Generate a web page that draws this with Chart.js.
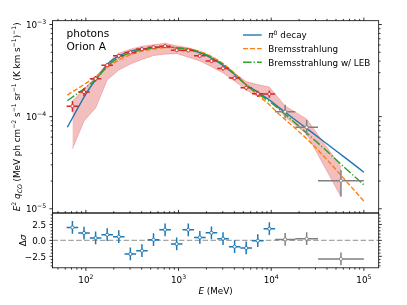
<!DOCTYPE html>
<html><head><meta charset="utf-8">
<script src="https://cdn.jsdelivr.net/npm/chart.js@4"></script>
<style>
html,body{margin:0;padding:0;background:#fff;}
#wrap{position:relative;width:407px;height:305px;overflow:hidden;}
canvas{position:absolute;left:0;top:0;}
</style></head>
<body><div id="wrap"><canvas id="cTop" width="407" height="305"></canvas><canvas id="cBot" width="407" height="305"></canvas></div>
<script>
// ---------------- data ----------------
const binCenters = [71.6, 95.5, 127.4, 169.8, 226.5, 302.0, 402.7, 537.0, 716.1, 955.0, 1273.5, 1698.2, 2264.6, 3019.9, 4027.2, 5370.3, 7161.4, 9549.9];
const binLo = [62.0, 82.7, 110.3, 147.1, 196.1, 261.5, 348.8, 465.1, 620.2, 827.1, 1102.9, 1470.8, 1961.3, 2615.4, 3487.7, 4651.0, 6202.2, 8270.8];
const binHi = [82.7, 110.3, 147.1, 196.1, 261.5, 348.8, 465.1, 620.2, 827.1, 1102.9, 1470.8, 1961.3, 2615.4, 3487.7, 4651.0, 6202.2, 8270.8, 11029];
const flux = [1.30e-4, 1.85e-4, 2.58e-4, 3.62e-4, 4.57e-4, 4.98e-4, 5.41e-4, 5.68e-4, 5.82e-4, 5.27e-4, 5.23e-4, 4.57e-4, 4.01e-4, 3.34e-4, 2.62e-4, 2.06e-4, 1.77e-4, 1.76e-4];
const fluxLo = [1.13e-4, 1.67e-4, 2.40e-4, 3.44e-4, 4.39e-4, 4.78e-4, 5.19e-4, 5.45e-4, 5.59e-4, 5.06e-4, 5.02e-4, 4.39e-4, 3.85e-4, 3.17e-4, 2.49e-4, 1.94e-4, 1.63e-4, 1.60e-4];
const fluxHi = [1.48e-4, 2.04e-4, 2.77e-4, 3.80e-4, 4.75e-4, 5.18e-4, 5.63e-4, 5.91e-4, 6.05e-4, 5.48e-4, 5.44e-4, 4.75e-4, 4.17e-4, 3.51e-4, 2.75e-4, 2.18e-4, 1.91e-4, 1.92e-4];

const grayCenters = [14140, 24130, 56570];
const grayLo = [11029, 18200, 32000];
const grayHi = [18200, 32000, 100000];
const grayFlux = [1.13e-4, 7.67e-5, 2.02e-5];
const grayFluxLo = [9.6e-5, 6.3e-5, 1.36e-5];
const grayFluxHi = [1.35e-4, 9.2e-5, 2.64e-5];

const bandE = [71.6, 95.5, 127.4, 169.8, 226.5, 302.0, 402.7, 537.0, 716.1, 955.0, 1273.5, 1698.2, 2264.6, 3019.9, 4027.2, 5370.3, 7161.4, 9549.9, 14140, 24130, 56570];
const bandUpper = [1.477e-4, 1.993e-4, 2.671e-4, 3.81e-4, 4.89e-4, 5.40e-4, 5.82e-4, 6.04e-4, 6.27e-4, 5.89e-4, 5.61e-4, 5.08e-4, 4.535e-4, 3.716e-4, 2.97e-4, 2.40e-4, 2.229e-4, 2.095e-4, 1.304e-4, 9.43e-5, 2.85e-5];
const bandLower = [4.46e-5, 8.97e-5, 1.241e-4, 2.493e-4, 3.20e-4, 3.716e-4, 4.18e-4, 4.60e-4, 4.77e-4, 4.83e-4, 4.42e-4, 4.03e-4, 3.49e-4, 2.97e-4, 2.432e-4, 1.943e-4, 1.652e-4, 1.592e-4, 9.91e-5, 6.49e-5, 1.349e-5];

const modelE = [63.1, 100, 129.7, 174.6, 235.5, 314.8, 414, 553, 741, 1033, 1327, 1774, 2366, 3112, 4093, 5433, 7145, 9397, 12470, 17780, 25120, 39810, 63100, 100000];
const pi0Decay = [7.67e-5, 1.759e-4, 2.576e-4, 3.782e-4, 4.65e-4, 5.18e-4, 5.44e-4, 5.64e-4, 5.68e-4, 5.54e-4, 5.31e-4, 4.85e-4, 4.21e-4, 3.535e-4, 2.825e-4, 2.202e-4, 1.849e-4, 1.533e-4, 1.231e-4, 9.38e-5, 7.22e-5, 5.08e-5, 3.57e-5, 2.496e-5];
const bremss = [1.716e-4, 2.297e-4, 2.755e-4, 3.474e-4, 4.21e-4, 4.77e-4, 5.18e-4, 5.44e-4, 5.64e-4, 5.58e-4, 5.44e-4, 5.01e-4, 4.39e-4, 3.69e-4, 2.896e-4, 2.202e-4, 1.716e-4, 1.371e-4, 1.042e-4, 7.63e-5, 5.54e-5, 3.43e-5, 2.035e-5, 1.212e-5];
const bremssLEB = [1.489e-4, 2.079e-4, 2.576e-4, 3.60e-4, 4.46e-4, 4.97e-4, 5.36e-4, 5.58e-4, 5.68e-4, 5.54e-4, 5.36e-4, 4.93e-4, 4.28e-4, 3.62e-4, 2.846e-4, 2.186e-4, 1.781e-4, 1.478e-4, 1.18e-4, 8.69e-5, 6.41e-5, 4.23e-5, 2.752e-5, 1.819e-5];

const resid = [2.03, 1.16, 0.38, 0.89, 0.58, -2.13, -1.61, 0.11, 1.67, -0.56, 1.67, 0.47, 1.20, 0.27, -0.98, -1.19, -0.05, 1.83];
const grayResid = [0.16, 0.27, -2.91];
const residErr = 1;

const legendLabels = ['π⁰ decay', 'Bremsstrahlung', 'Bremsstrahlung w/ LEB'];
const textLines = ['photons', 'Orion A'];

// axis limits and ticks
const xMin = 43.65, xMax = 144500;
const yTopMin = 9e-6, yTopMax = 1.1e-3;
const yBotMin = -4.3, yBotMax = 4.3;
const xMajor = [100, 1000, 10000, 100000];
const xMinor = [50,60,70,80,90,200,300,400,500,600,700,800,900,2000,3000,4000,5000,6000,7000,8000,9000,20000,30000,40000,50000,60000,70000,80000,90000];
const yTopMajor = [1e-5, 1e-4, 1e-3];
const yTopMinor = [2e-5,3e-5,4e-5,5e-5,6e-5,7e-5,8e-5,9e-5,2e-4,3e-4,4e-4,5e-4,6e-4,7e-4,8e-4,9e-4];
const yBotMajor = [-2.5, 0, 2.5];
const yBotMinor = [-4,-3.5,-3,-2,-1.5,-1,-0.5,0.5,1,1.5,2,3,3.5,4];
const yBotLabels = ['−2.5', '0.0', '2.5'];

// ---------------- helpers ----------------
const FONT = '"DejaVu Sans"';
const FS = 8.8;
const C_BLUE = '#1f77b4', C_ORANGE = '#ff7f0e', C_GREEN = '#2ca02c', C_RED = '#d62728', C_GRAY = '#808080';

function pts(xs, ys) { return xs.map((x, i) => ({x: x, y: ys[i]})); }
function errSegs(c, lo, hi, v, vlo, vhi) {
  const out = [];
  for (let i = 0; i < c.length; i++) {
    out.push({x: lo[i], y: v[i]}, {x: hi[i], y: v[i]}, {x: c[i], y: null});
    out.push({x: c[i], y: vlo[i]}, {x: c[i], y: vhi[i]}, {x: c[i], y: null});
  }
  return out;
}
function drawRich(ctx, segs, x, y, align, size) {
  const fontOf = s => {
    const small = s.indexOf('sup') >= 0 || s.indexOf('sub') >= 0;
    const it = s.charAt(0) === 'i';
    return (it ? 'italic ' : '') + (small ? size * 0.7 : size) + 'px ' + FONT;
  };
  let total = 0;
  const w = segs.map(([t, s]) => { ctx.font = fontOf(s); const m = ctx.measureText(t).width; total += m; return m; });
  let cx = align === 'center' ? x - total / 2 : (align === 'right' ? x - total : x);
  ctx.textAlign = 'left'; ctx.textBaseline = 'alphabetic';
  segs.forEach(([t, s], i) => {
    ctx.font = fontOf(s);
    let dy = 0;
    if (s.indexOf('sup') >= 0) dy = -size * 0.42;
    if (s.indexOf('sub') >= 0) dy = size * 0.22;
    ctx.fillText(t, cx, y + dy);
    cx += w[i];
  });
  return total;
}
function line(ctx, x1, y1, x2, y2) { ctx.beginPath(); ctx.moveTo(x1, y1); ctx.lineTo(x2, y2); ctx.stroke(); }

const framePlugin = {
  id: 'frame',
  afterDraw(chart, args, o) {
    const ctx = chart.ctx, a = chart.chartArea, xs = chart.scales.x, ys = chart.scales.y;
    ctx.save();
    ctx.strokeStyle = '#000'; ctx.lineWidth = 0.8; ctx.setLineDash([]);
    ctx.strokeRect(a.left, a.top, a.right - a.left, a.bottom - a.top);
    const xt = (vals, len) => vals.forEach(v => {
      const p = xs.getPixelForValue(v);
      if (p < a.left - 0.5 || p > a.right + 0.5) return;
      if (o.bottom) line(ctx, p, a.bottom, p, a.bottom + len);
      if (o.top) line(ctx, p, a.top, p, a.top - len);
    });
    const yt = (vals, len) => vals.forEach(v => {
      const p = ys.getPixelForValue(v);
      if (p < a.top - 0.5 || p > a.bottom + 0.5) return;
      line(ctx, a.left, p, a.left - len, p);
      line(ctx, a.right, p, a.right + len, p);
    });
    xt(o.xMajor, 3.1); xt(o.xMinor, 1.8); yt(o.yMajor, 3.1); yt(o.yMinor, 1.8);
    ctx.fillStyle = '#000';
    if (o.xLabels) o.xMajor.forEach(v => {
      const p = xs.getPixelForValue(v);
      drawRich(ctx, [['10', 'n'], [String(Math.round(Math.log10(v))), 'sup']], p, a.bottom + 14.7, 'center', FS);
    });
    o.yMajor.forEach((v, i) => {
      const p = ys.getPixelForValue(v);
      if (o.yPow) drawRich(ctx, [['10', 'n'], [String(Math.round(Math.log10(v))).replace('-', '−'), 'sup']], a.left - 6.3, p + 3.2, 'right', FS);
      else drawRich(ctx, [[o.yLabels[i], 'n']], a.left - 6.3, p + 3.2, 'right', FS);
    });
    if (o.extra) o.extra(ctx, chart);
    ctx.restore();
  }
};

// ---------------- top chart ----------------
new Chart(document.getElementById('cTop'), {
  type: 'line',
  data: {
    datasets: [
      { data: pts(bandE, bandUpper), fill: '+1', backgroundColor: 'rgba(214,39,40,0.3)', borderColor: 'rgba(214,39,40,0.3)', borderWidth: 0.8, pointRadius: 0, order: 10 },
      { data: pts(bandE, bandLower), fill: false, borderColor: 'rgba(214,39,40,0.3)', borderWidth: 0.8, pointRadius: 0, order: 11 },
      { data: pts(modelE, pi0Decay), borderColor: C_BLUE, borderWidth: 1.4, pointRadius: 0, cubicInterpolationMode: 'monotone', fill: false, order: 6 },
      { data: pts(modelE, bremss), borderColor: C_ORANGE, borderWidth: 1.4, borderDash: [4.9, 2.1], pointRadius: 0, cubicInterpolationMode: 'monotone', fill: false, order: 5 },
      { data: pts(modelE, bremssLEB), borderColor: C_GREEN, borderWidth: 1.4, borderDash: [8.5, 2.1, 1.3, 2.1], pointRadius: 0, cubicInterpolationMode: 'monotone', fill: false, order: 4 },
      { data: errSegs(binCenters, binLo, binHi, flux, fluxLo, fluxHi), borderColor: C_RED, borderWidth: 1.5, pointRadius: 0, spanGaps: false, fill: false, order: 3 },
      { data: errSegs(grayCenters, grayLo, grayHi, grayFlux, grayFluxLo, grayFluxHi), borderColor: C_GRAY, borderWidth: 1.5, pointRadius: 0, spanGaps: false, fill: false, order: 3 },
      { data: pts(binCenters, flux), showLine: false, pointRadius: 1.6, pointBackgroundColor: '#fff', pointBorderColor: C_RED, pointBorderWidth: 0.9, order: 1 },
      { data: pts(grayCenters, grayFlux), showLine: false, pointRadius: 1.6, pointBackgroundColor: '#fff', pointBorderColor: C_GRAY, pointBorderWidth: 0.9, order: 1 }
    ]
  },
  options: {
    responsive: false, animation: false, devicePixelRatio: 1, events: [],
    layout: { padding: { left: 52.5, right: 407 - 378.7, top: 20.7, bottom: 305 - 213 } },
    scales: {
      x: { type: 'logarithmic', min: xMin, max: xMax, display: false },
      y: { type: 'logarithmic', min: yTopMin, max: yTopMax, display: false }
    },
    plugins: {
      legend: { display: false }, tooltip: { enabled: false },
      frame: {
        top: true, bottom: false, xLabels: false, yPow: true,
        xMajor: xMajor, xMinor: xMinor, yMajor: yTopMajor, yMinor: yTopMinor,
        extra(ctx) {
          ctx.fillStyle = '#000';
          ctx.font = '10.6px ' + FONT; ctx.textAlign = 'left'; ctx.textBaseline = 'alphabetic';
          ctx.fillText(textLines[0], 66.5, 36.8);
          ctx.fillText(textLines[1], 66.5, 49.5);
          const rows = [
            { c: C_BLUE, d: [], segs: [['π', 'i'], ['0', 'sup'], [' decay', 'n']] },
            { c: C_ORANGE, d: [4.9, 2.1], segs: [[legendLabels[1], 'n']] },
            { c: C_GREEN, d: [8.5, 2.1, 1.3, 2.1], segs: [[legendLabels[2], 'n']] }
          ];
          rows.forEach((r, i) => {
            const y = 35 + 13.65 * i;
            ctx.strokeStyle = r.c; ctx.lineWidth = 1.4; ctx.setLineDash(r.d);
            line(ctx, 243, y, 261.7, y);
            ctx.setLineDash([]);
            ctx.fillStyle = '#000';
            drawRich(ctx, r.segs, 268.3, y + 3.2, 'left', FS);
          });
          ctx.save();
          ctx.translate(20, 116.8); ctx.rotate(-Math.PI / 2);
          drawRich(ctx, [['E', 'i'], ['2', 'sup'], [' ', 'n'], ['q', 'i'], ['CO', 'isub'], [' (MeV ph cm', 'n'], ['−2', 'sup'], [' s', 'n'], ['−1', 'sup'], [' sr', 'n'], ['−1', 'sup'], [' (K km s', 'n'], ['−1', 'sup'], [')', 'n'], ['−1', 'sup'], [')', 'n']], 0, 0, 'center', FS);
          ctx.restore();
        }
      }
    }
  },
  plugins: [framePlugin]
});

// ---------------- bottom chart ----------------
new Chart(document.getElementById('cBot'), {
  type: 'line',
  data: {
    datasets: [
      { data: [{x: xMin, y: 0}, {x: xMax, y: 0}], borderColor: 'rgba(128,128,128,0.7)', borderWidth: 1.3, borderDash: [5.5, 2.4], pointRadius: 0, fill: false, order: 9 },
      { data: errSegs(binCenters, binLo, binHi, resid, resid.map(v => v - residErr), resid.map(v => v + residErr)), borderColor: C_BLUE, borderWidth: 1.5, pointRadius: 0, spanGaps: false, fill: false, order: 3 },
      { data: errSegs(grayCenters, grayLo, grayHi, grayResid, grayResid.map(v => v - residErr), grayResid.map(v => v + residErr)), borderColor: C_GRAY, borderWidth: 1.5, pointRadius: 0, spanGaps: false, fill: false, order: 3 },
      { data: pts(binCenters, resid), showLine: false, pointRadius: 1.6, pointBackgroundColor: '#fff', pointBorderColor: C_BLUE, pointBorderWidth: 0.9, order: 1 },
      { data: pts(grayCenters, grayResid), showLine: false, pointRadius: 1.6, pointBackgroundColor: '#fff', pointBorderColor: C_GRAY, pointBorderWidth: 0.9, order: 1 }
    ]
  },
  options: {
    responsive: false, animation: false, devicePixelRatio: 1, events: [],
    layout: { padding: { left: 52.5, right: 407 - 378.7, top: 213, bottom: 305 - 267.8 } },
    scales: {
      x: { type: 'logarithmic', min: xMin, max: xMax, display: false },
      y: { type: 'linear', min: yBotMin, max: yBotMax, display: false }
    },
    plugins: {
      legend: { display: false }, tooltip: { enabled: false },
      frame: {
        top: true, bottom: true, xLabels: true, yPow: false, yLabels: yBotLabels,
        xMajor: xMajor, xMinor: xMinor, yMajor: yBotMajor, yMinor: yBotMinor,
        extra(ctx) {
          ctx.fillStyle = '#000';
          drawRich(ctx, [['E', 'i'], [' (MeV)', 'n']], 215.6, 293.5, 'center', FS);
          ctx.save();
          ctx.translate(25.5, 240.4); ctx.rotate(-Math.PI / 2);
          drawRich(ctx, [['Δ', 'n'], ['σ', 'i']], 0, 0, 'center', FS);
          ctx.restore();
        }
      }
    }
  },
  plugins: [framePlugin]
});
</script>
</body></html>
